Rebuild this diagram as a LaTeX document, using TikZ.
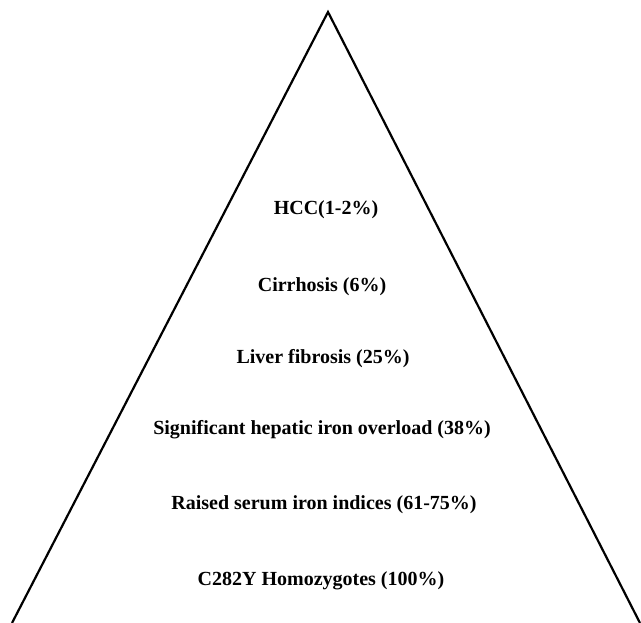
\documentclass[tikz,border=0pt]{standalone}
\usepackage{fontspec}
\setmainfont{Liberation Serif}
\begin{document}
\begin{tikzpicture}[x=1pt,y=-1pt,
  lbl/.style={font=\fontsize{20}{24}\selectfont\bfseries, inner sep=0pt},
  edge/.style={line width=2.2pt}]
\useasboundingbox (0,0) rectangle (641,623);
\coordinate (apex) at (328,12);
\coordinate (bl) at (12,623);
\coordinate (br) at (640,623);
\draw[edge, line join=miter] (bl) -- (apex) -- (br);
\node[lbl] (l1) at (326,210) {HCC(1-2\%)};
\node[lbl] (l2) at (322,287) {Cirrhosis (6\%)};
\node[lbl] (l3) at (323,359) {Liver fibrosis (25\%)};
\node[lbl] (l4) at (322,430) {Significant hepatic iron overload (38\%)};
\node[lbl] (l5) at (324,505) {Raised serum iron indices (61-75\%)};
\node[lbl] (l6) at (321,581) {C282Y Homozygotes (100\%)};
\end{tikzpicture}
\end{document}
